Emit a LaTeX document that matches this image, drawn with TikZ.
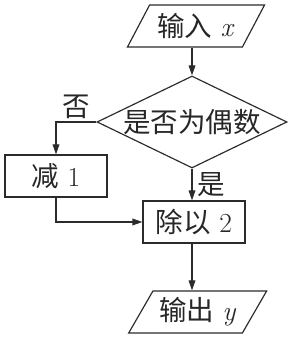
\documentclass[tikz,border=0pt]{standalone}
\usepackage{fontspec}
\usepackage{xcolor}
\usepackage{tikz}
\usetikzlibrary{shapes.geometric,arrows.meta}
\newfontfamily\cjk{Noto Sans CJK SC}
\definecolor{FCLine}{HTML}{2B2B2B}
\definecolor{FCText}{HTML}{262626}
\newcommand{\fcsize}{\fontsize{23.5}{28}\selectfont}
\newcommand{\fcflat}[1]{\raisebox{-0.37em}[0pt][0pt]{\makebox[0pt]{#1}}}

\begin{document}
\begin{tikzpicture}[x=1cm,y=1cm,
  fcline/.style={draw=FCLine,line width=1pt},
  fcarrow/.style={fcline,-{Triangle[length=3mm,width=2mm]}},
  iobox/.style={fcline,trapezium,trapezium left angle=54,trapezium right angle=126,
    trapezium stretches=true,minimum width=4.14cm,minimum height=1.26cm,
    inner sep=0pt,text=FCText,font=\fcsize},
  procbox/.style={fcline,rectangle,minimum width=3.06cm,minimum height=1.26cm,
    inner sep=0pt,text=FCText,font=\fcsize},
  testbox/.style={fcline,diamond,aspect=2.06,minimum width=5.7cm,minimum height=2.76cm,
    inner sep=0pt,text=FCText,font=\fcsize},
  fclabel/.style={text=FCText,font=\fcsize,inner sep=1pt}]
\path[use as bounding box] (0,0) rectangle (8.88,10.14);
\node[iobox] (input) at (5.88,9.36) {{\cjk 输入} \textit{x}};
\node[testbox] (even) at (5.76,6.48) {\fcflat{\cjk 是否为偶数}};
\node[procbox] (minus) at (1.68,4.86) {{\cjk 减} 1};
\node[procbox] (halve) at (5.82,3.48) {{\cjk 除以} 2};
\node[iobox] (output) at (5.93,0.78) {{\cjk 输出} \textit{y}};
\draw[fcarrow] (even.north |- input.south) -- (even.north);
\draw[fcarrow] (even.west) -| node[fclabel,pos=0.25,above,yshift=1pt] (no) {\cjk 否} (minus.north);
\draw[fcarrow] (even.south) -- node[fclabel,right,xshift=3pt] (yes) {\cjk 是} (even.south |- halve.north);
\draw[fcarrow] (minus.south) |- (halve.west);
\draw[fcarrow] (even.south |- halve.south) -- (even.south |- output.north);
\end{tikzpicture}
\end{document}
